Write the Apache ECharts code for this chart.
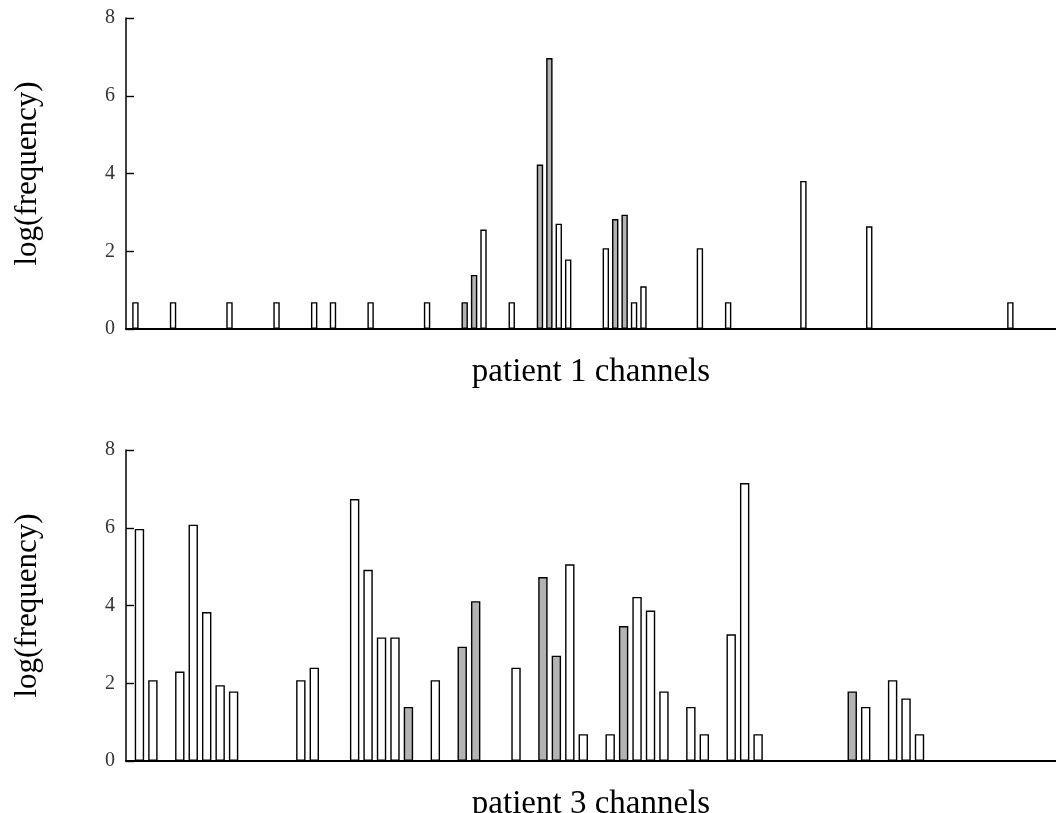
<!DOCTYPE html>
<html>
<head>
<meta charset="utf-8">
<script src="https://cdn.jsdelivr.net/npm/echarts@6/dist/echarts.min.js"></script>
<style>
html,body{margin:0;padding:0;background:#fff;}
#chart{width:1056px;height:813px;}
</style>
</head>
<body>
<div id="chart"></div>
<script>
// Patient 1 channels (x position), log(frequency) values, and highlighted (gray) channels
const p1Channel = [1,5,11,16,20,22,26,32,36,37,38,41,44,45,46,47,51,52,53,54,55,61,64,72,79,94];
const p1Value   = [0.69,0.69,0.69,0.69,0.69,0.69,0.69,0.69,0.69,1.39,2.56,0.69,4.23,6.97,2.71,1.79,2.08,2.83,2.94,0.69,1.10,2.08,0.69,3.81,2.64,0.69];
const p1Marked  = [36,37,44,45,52,53];

// Patient 3
const p3Channel = [1,2,4,5,6,7,8,13,14,17,18,19,20,21,23,25,26,29,31,32,33,34,36,37,38,39,40,42,43,45,46,47,54,55,57,58,59];
const p3Value   = [5.97,2.08,2.30,6.08,3.83,1.95,1.79,2.08,2.40,6.74,4.92,3.18,3.18,1.39,2.08,2.94,4.11,2.40,4.73,2.71,5.06,0.69,0.69,3.47,4.22,3.87,1.79,1.39,0.69,3.26,7.15,0.69,1.79,1.39,2.08,1.61,0.69];
const p3Marked  = [21,25,26,31,32,37,54];

const yTicks = [0,2,4,6,8];
const xTitles = ['patient 1 channels','patient 3 channels'];
const yTitle = 'log(frequency)';

const FONT = '"Liberation Serif", "DejaVu Serif", serif';
const GRAY = '#b3b3b3';

function buildData(ch, val, marked){
  return ch.map((c,i)=>({
    value:[c, val[i]],
    itemStyle:{color: marked.includes(c) ? GRAY : '#ffffff'}
  }));
}

function yAxis(gi){
  return {
    type:'value', gridIndex:gi, min:yTicks[0], max:yTicks[yTicks.length-1], interval:2,
    name:yTitle, nameLocation:'middle', nameGap:83, nameRotate:90,
    nameTextStyle:{fontFamily:FONT, fontSize:31, color:'#000'},
    axisLine:{show:true, lineStyle:{color:'#000', width:1.5}},
    axisTick:{show:true, inside:true, length:8, lineStyle:{color:'#000', width:1.4}},
    axisLabel:{fontFamily:FONT, fontSize:20, color:'#333', margin:11},
    splitLine:{show:false}
  };
}
function xAxis(gi, max){
  return {
    type:'value', gridIndex:gi, min:0, max:max,
    name:xTitles[gi], nameLocation:'middle', nameGap:27,
    nameTextStyle:{fontFamily:FONT, fontSize:33, color:'#000'},
    axisLine:{show:true, onZero:false, lineStyle:{color:'#000', width:2}},
    axisTick:{show:false}, axisLabel:{show:false}, splitLine:{show:false}
  };
}

const chart = echarts.init(document.getElementById('chart'), null, {renderer:'canvas'});
chart.setOption({
  backgroundColor:'#fff',
  animation:false,
  grid:[
    {left:126, top:18, width:930, height:311, outerBoundsMode:'none', containLabel:false},
    {left:126, top:450, width:930, height:311, outerBoundsMode:'none', containLabel:false}
  ],
  xAxis:[xAxis(0, 98.85), xAxis(1, 69.15)],
  yAxis:[yAxis(0), yAxis(1)],
  series:[
    {type:'bar', xAxisIndex:0, yAxisIndex:0, barWidth:6.4,
     itemStyle:{borderColor:'#000', borderWidth:1.4},
     data:buildData(p1Channel,p1Value,p1Marked)},
    {type:'bar', xAxisIndex:1, yAxisIndex:1, barWidth:9.4,
     itemStyle:{borderColor:'#000', borderWidth:1.4},
     data:buildData(p3Channel,p3Value,p3Marked)}
  ]
});
</script>
</body>
</html>
